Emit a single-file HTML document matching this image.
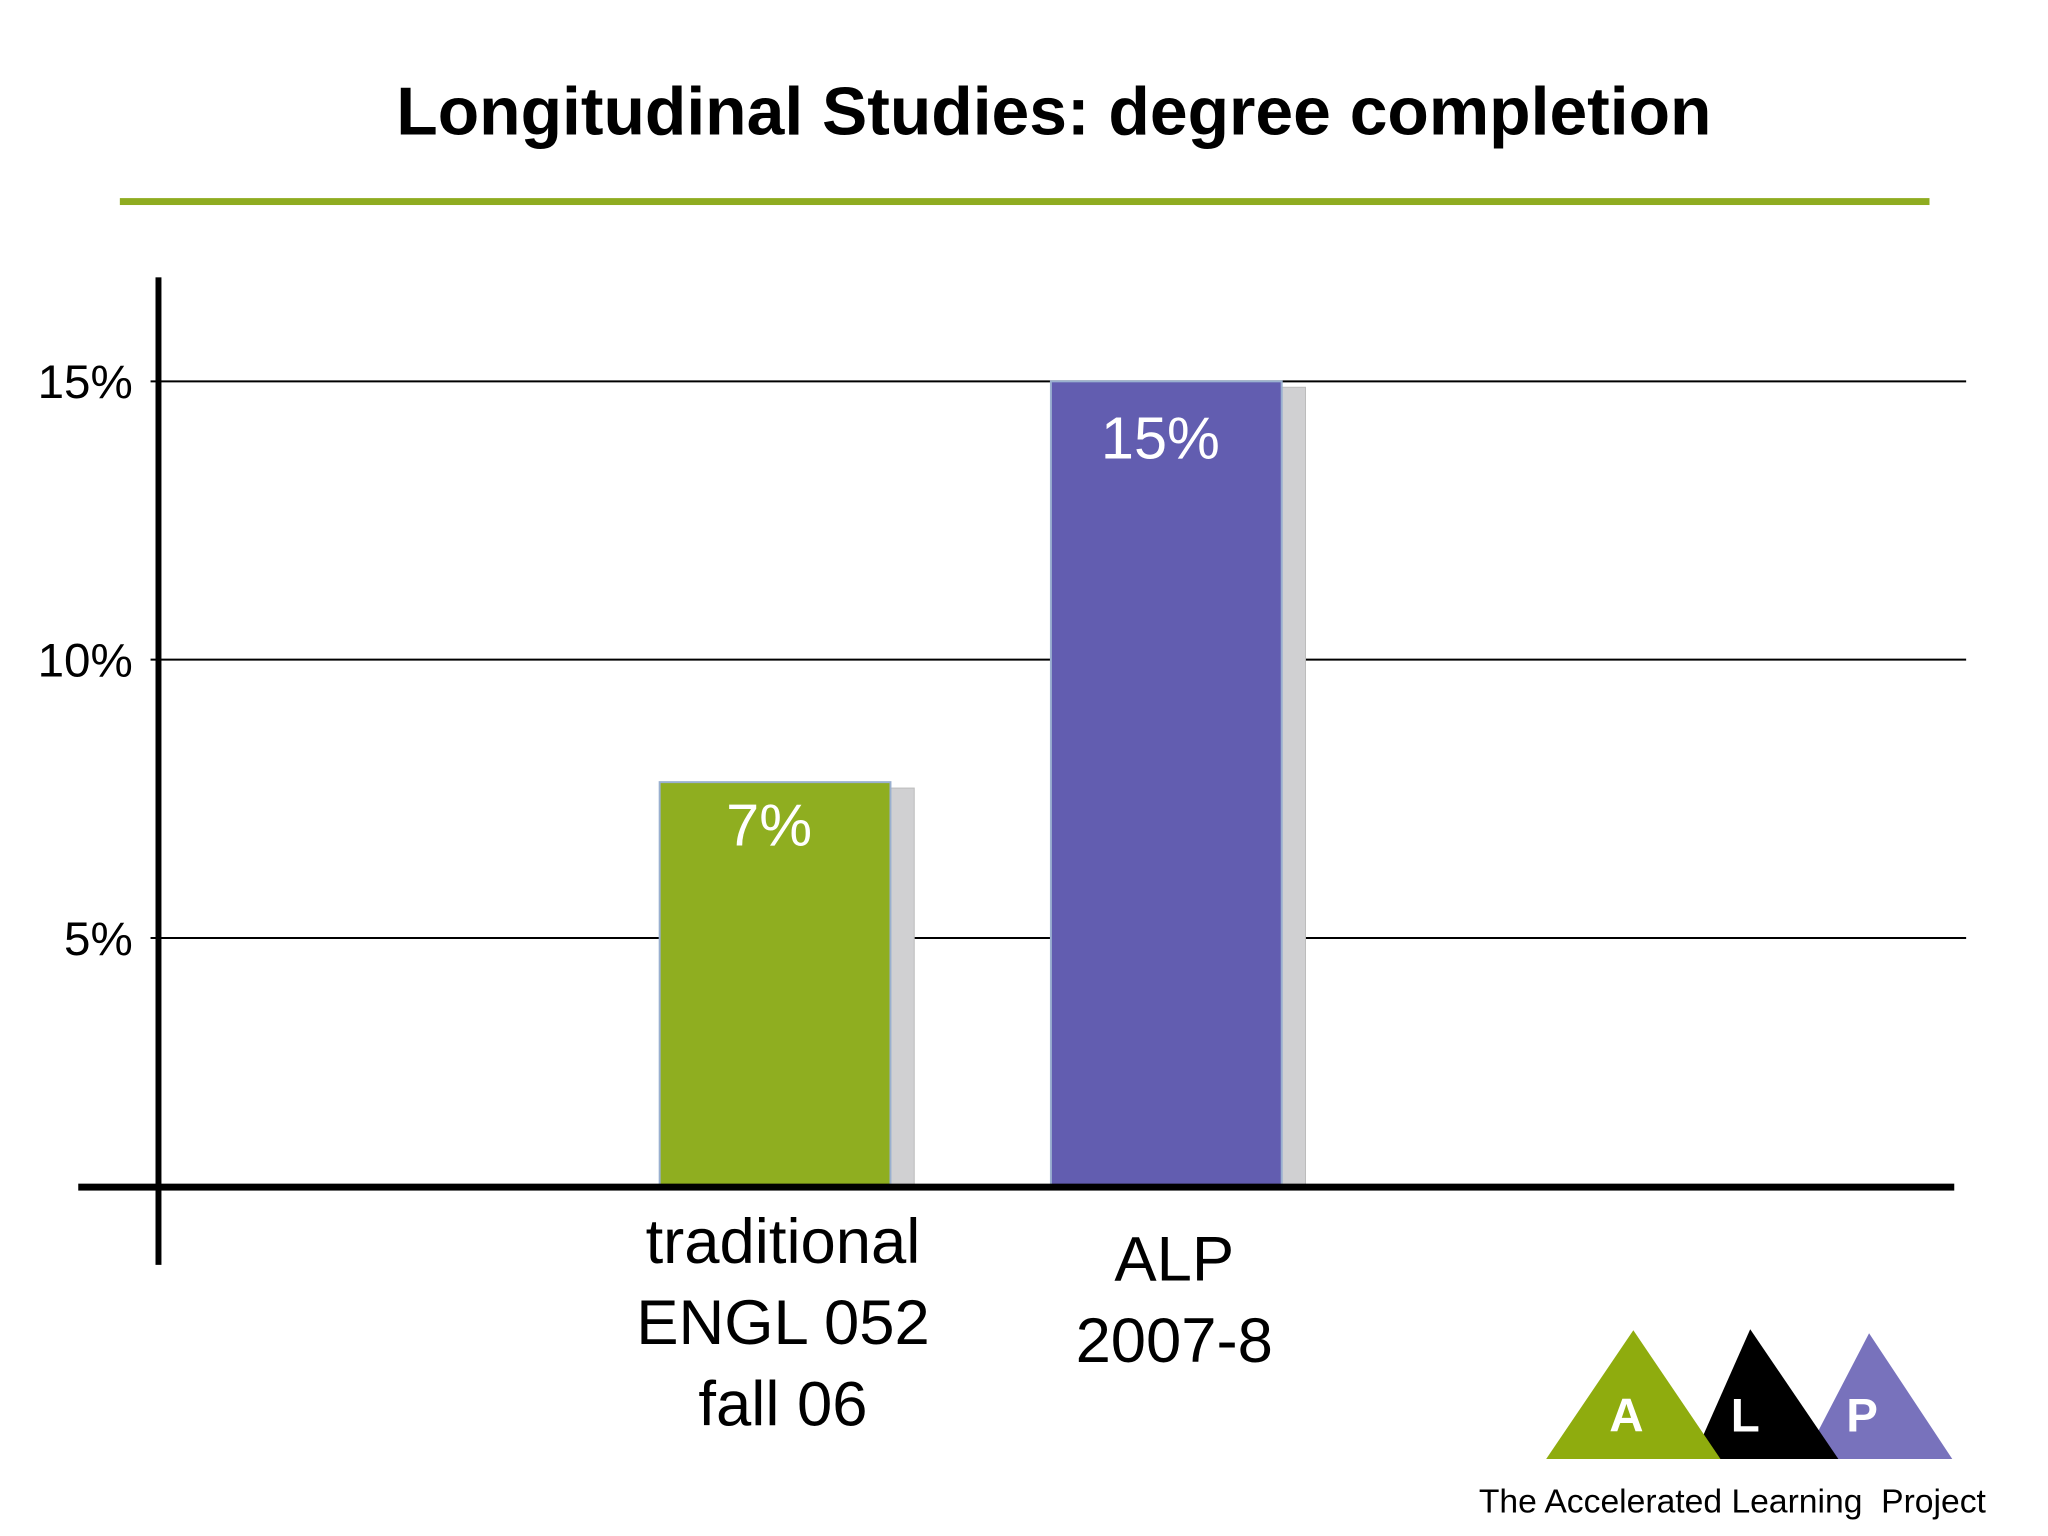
<!DOCTYPE html>
<html><head><meta charset="utf-8">
<style>
html,body{margin:0;padding:0;background:#fff;}
svg{display:block;}
text{font-family:"Liberation Sans",sans-serif;}
</style></head>
<body>
<svg id="chart" width="2048" height="1536" viewBox="0 0 2048 1536" xmlns="http://www.w3.org/2000/svg">
 <g transform="scale(0.9905)">
  <text x="1064" y="136" font-size="68.5" font-weight="bold" text-anchor="middle" fill="#000">Longitudinal Studies: degree completion</text>
  <rect x="121" y="200" width="1827" height="7" fill="#8fac20"/>
  <g id="grid"></g>
  <g id="bars"></g>
  <rect x="157" y="280" width="6" height="997" fill="#000"/>
  <rect x="79" y="1195" width="1894" height="7" fill="#000"/>
  <g id="ticks"></g>
  <g id="cats"></g>
  <g>
    <polygon points="1887,1346 1821,1473 1971,1473" fill="#7872bc"/>
    <polygon points="1767,1342 1709,1473 1856,1473" fill="#000"/>
    <polygon points="1649,1343 1561,1473 1737,1473" fill="#8fac0e"/>
    <text x="1642" y="1445" font-size="48" font-weight="bold" fill="#fff" text-anchor="middle">A</text>
    <text x="1762" y="1445" font-size="48" font-weight="bold" fill="#fff" text-anchor="middle">L</text>
    <text x="1880" y="1445" font-size="48" font-weight="bold" fill="#fff" text-anchor="middle">P</text>
    <text x="1749" y="1527" font-size="34" fill="#000" text-anchor="middle" xml:space="preserve">The Accelerated Learning  Project</text>
  </g>
 </g>
</svg>
<script>
const categories = [["traditional","ENGL 052","fall 06"],["ALP","2007-8"]];
const values = [7.8, 15];
const valueLabels = ["7%","15%"];
const tickValues = [5, 10, 15];
const tickLabels = ["5%","10%","15%"];

const NS = "http://www.w3.org/2000/svg";
const axisY = 1198;
function y(v){ return 1228 - v * 56.2; }
const barX = [666, 1061];
const barW = 233;
function mk(tag, attrs, parent){
  const el = document.createElementNS(NS, tag);
  for (const k in attrs) el.setAttribute(k, attrs[k]);
  parent.appendChild(el);
  return el;
}
const grid = document.getElementById('grid');
const ticks = document.getElementById('ticks');
tickValues.forEach((v, i) => {
  const l = mk('line', {x1:152, x2:1985, y1:y(v), y2:y(v), stroke:'#000', 'stroke-width':2}, grid);
  
  
  const t = mk('text', {x:134, y:y(v)+17, 'font-size':48, 'text-anchor':'end', fill:'#000'}, ticks);
  t.textContent = tickLabels[i];
  
  
});
const bars = document.getElementById('bars');
const colors = ['#8fae20', '#625db0'];
values.forEach((v, i) => {
  const top = y(v);
  const s = mk('rect', {x:barX[i]+10, y:top+6, width:barW+14, height:axisY-top-6, fill:'#d0d0d2', stroke:'#bbb', 'stroke-width':1}, bars);
  
  
  const b = mk('rect', {x:barX[i], y:top, width:barW, height:axisY-top, fill:colors[i], stroke:'#9ab0d0', 'stroke-width':2}, bars);
  
  
  const t = mk('text', {x:barX[i]+barW/2-6, y:top + (i === 0 ? 64 : 78), 'font-size':60, 'text-anchor':'middle', fill:'#fff'}, bars);
  t.textContent = valueLabels[i];
  
  
});
const cats = document.getElementById('cats');
const catStartY = [1275, 1293];
categories.forEach((lines, i) => {
  lines.forEach((ln, j) => {
    const t = mk('text', {x:barX[i]+barW/2+8, y:catStartY[i] + j*82, 'font-size':64, 'text-anchor':'middle', fill:'#000'}, cats);
    t.textContent = ln;
    
    
  });
});
</script>
</body></html>
